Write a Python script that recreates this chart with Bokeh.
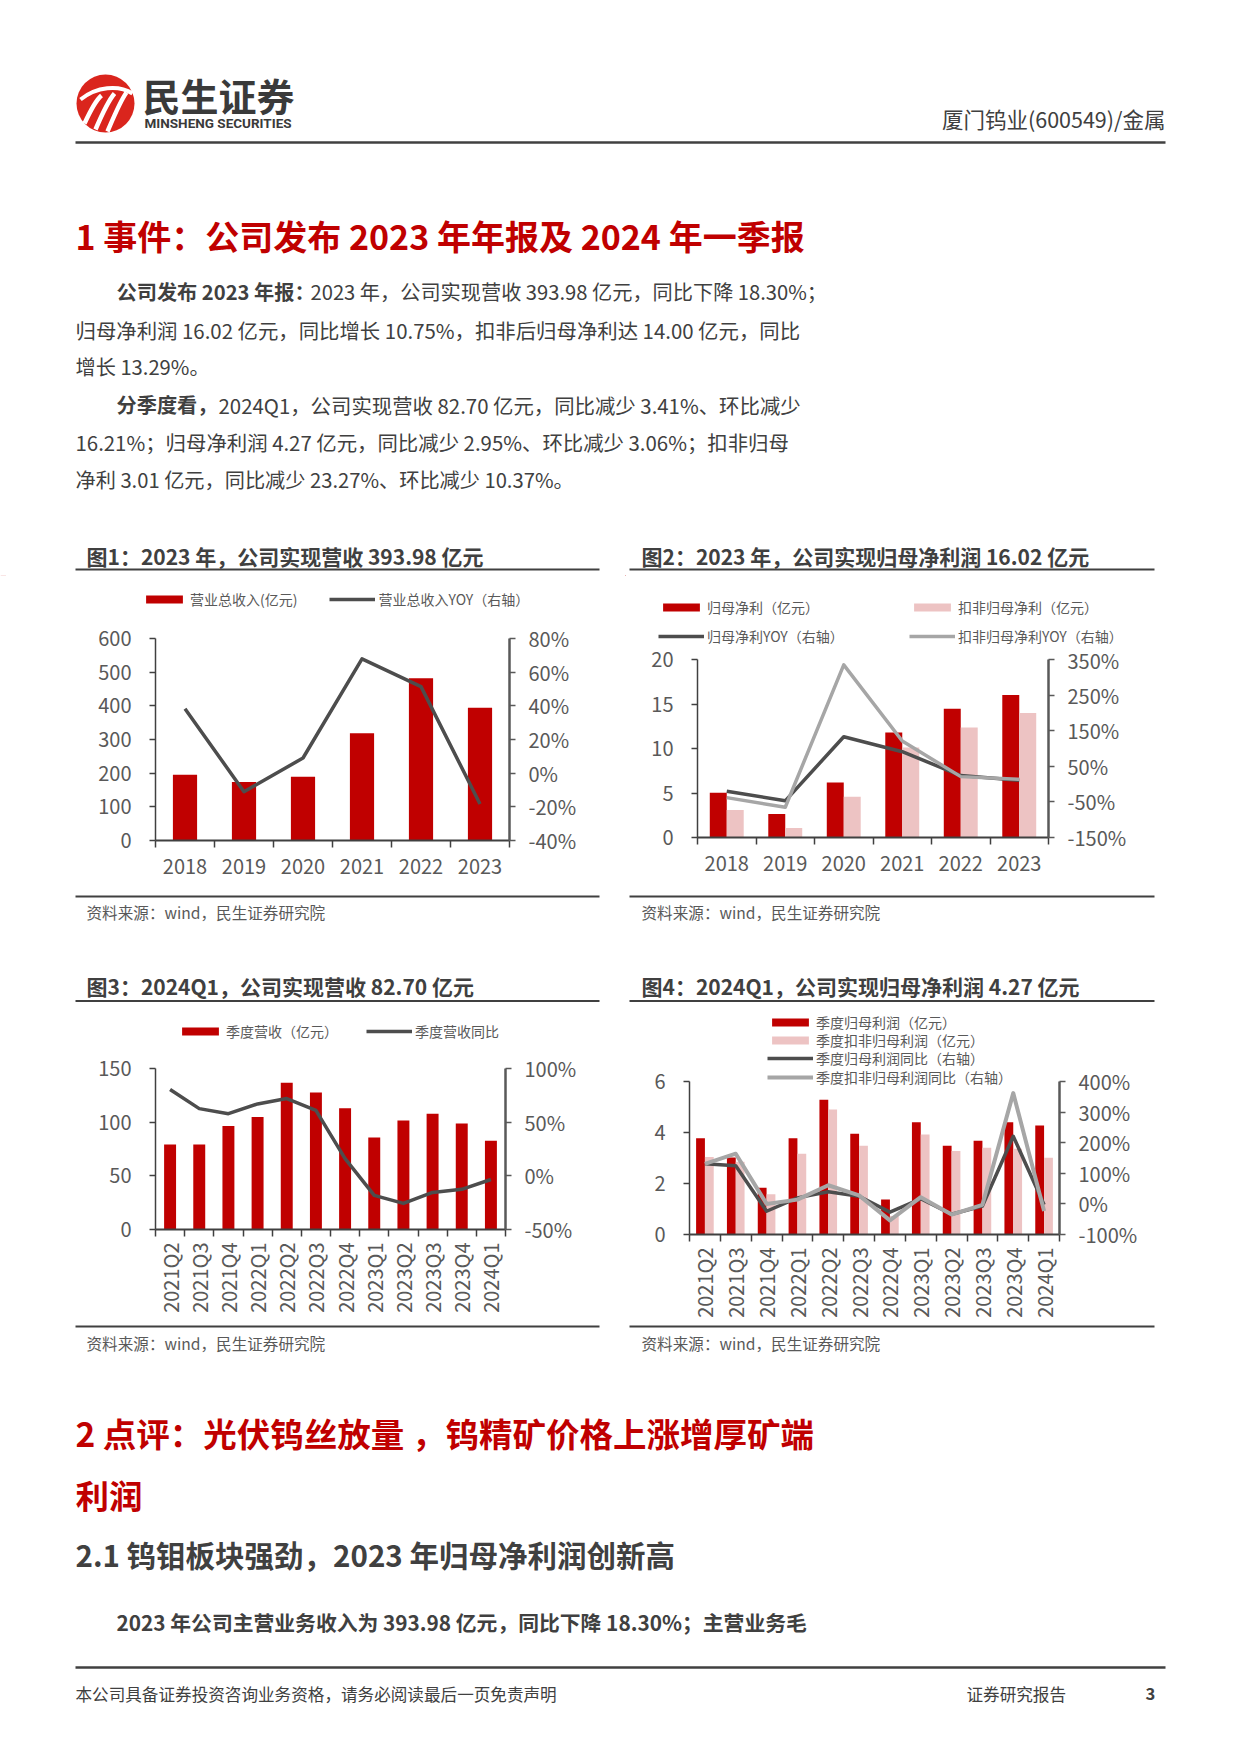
import math
from bokeh.plotting import figure
from bokeh.models import (Range1d, LinearAxis, FixedTicker, NumeralTickFormatter,
                          Legend, LegendItem, ColumnDataSource)
from bokeh.layouts import column, row
from bokeh.core.properties import value
from bokeh.transform import dodge
from bokeh.embed import file_html
from bokeh.resources import INLINE

# ---------------- data ----------------
years = ["2018", "2019", "2020", "2021", "2022", "2023"]
revenue = [195.5, 174.0, 189.7, 318.5, 482.2, 393.98]
revenue_yoy = [0.383, -0.110, 0.090, 0.679, 0.514, -0.183]

net_profit = [5.02, 2.65, 6.18, 11.80, 14.47, 16.02]
net_profit_deducted = [3.10, 1.06, 4.57, 10.10, 12.36, 14.00]
net_profit_yoy = [-0.20, -0.47, 1.33, 0.91, 0.24, 0.1075]
deducted_yoy = [-0.38, -0.65, 3.35, 1.21, 0.21, 0.1329]

quarters = ["2021Q2", "2021Q3", "2021Q4", "2022Q1", "2022Q2", "2022Q3",
            "2022Q4", "2023Q1", "2023Q2", "2023Q3", "2023Q4", "2024Q1"]
q_revenue = [79.2, 79.2, 96.5, 104.7, 136.8, 127.7, 112.9, 85.6, 101.6, 107.9, 98.7, 82.70]
q_revenue_yoy = [0.805, 0.626, 0.579, 0.67, 0.72, 0.61, 0.16, -0.182, -0.257, -0.155, -0.126, -0.0341]

q_profit = [3.77, 3.02, 1.83, 3.77, 5.28, 3.95, 1.37, 4.40, 3.48, 3.68, 4.40, 4.27]
q_profit_deducted = [3.04, 2.85, 1.58, 3.17, 4.90, 3.48, 0.73, 3.92, 3.27, 3.40, 3.36, 3.01]
q_profit_yoy = [1.31, 1.25, -0.24, 0.196, 0.40, 0.25, -0.27, 0.167, -0.34, -0.07, 2.21, -0.0295]
q_deducted_yoy = [1.31, 1.64, 0.0, 0.14, 0.61, 0.28, -0.54, 0.22, -0.35, -0.03, 3.62, -0.2327]

# ---------------- style ----------------
CJK = "Noto Sans CJK SC"
RED = "#C00000"
PINK = "#EDC3C3"
DARK = "#4D4D4D"
LIGHT = "#A6A6A6"
AXC = "#595959"
TXT = "#404040"
HEADRED = "#C00000"
LOGORED = "#DA251D"
PAGE_W = 1240


def blank_fig(x0, x1, y0, y1):
    p = figure(width=x1 - x0, height=y1 - y0, x_range=Range1d(x0, x1), y_range=Range1d(y1, y0),
               x_axis_type=None, y_axis_type=None, toolbar_location=None,
               output_backend="svg", min_border=0, outline_line_color=None,
               frame_align=False)
    return p


def T(p, x, y, s, size, color=TXT, bold=False, align="left", font=CJK):
    p.text(x=[x], y=[y], text=[s], text_font=value(font), text_font_size=value(f"{size}px"),
           text_color=color, text_font_style="bold" if bold else "normal",
           text_align=align, text_baseline="middle")


def L(p, x0, y0, x1, y1, color=TXT, w=2):
    p.segment(x0=[x0], y0=[y0], x1=[x1], y1=[y1], line_color=color, line_width=w)


def chart(box, ftb, arect, cats, ymax, yticks, rrange, rticks, rotate):
    X0, X1, Y0, Y1 = box          # figure box on the page
    FT, FB = ftb                  # frame top / bottom on the page
    XL, XR, YT, YB = arect        # axes rectangle on the page
    n = len(cats)
    ppy = (YB - YT) / ymax
    yrng = Range1d(-(FB - YB) / ppy, ymax + (YT - FT) / ppy)
    r0, r1 = rrange
    ppr = (YB - YT) / (r1 - r0)
    rrng = Range1d(r0 - (FB - YB) / ppr, r1 + (YT - FT) / ppr)
    p = figure(width=X1 - X0, height=Y1 - Y0, x_range=Range1d(-0.5, n - 0.5), y_range=yrng,
               x_axis_type=None, y_axis_type=None, toolbar_location=None, output_backend="svg",
               min_border_left=XL - X0, min_border_right=X1 - XR,
               min_border_top=FT - Y0, min_border_bottom=Y1 - FB,
               outline_line_color=None, frame_align=False)
    p.extra_y_ranges = {"r": rrng}
    yl = LinearAxis(ticker=FixedTicker(ticks=yticks, minor_ticks=[]), bounds=(0, ymax))
    yr = LinearAxis(y_range_name="r", ticker=FixedTicker(ticks=rticks, minor_ticks=[]),
                    formatter=NumeralTickFormatter(format="0%"), bounds=(r0, r1))
    xa = LinearAxis(ticker=FixedTicker(ticks=list(range(n)),
                                       minor_ticks=[i - 0.5 for i in range(n + 1)]),
                    major_label_overrides={i: c for i, c in enumerate(cats)})
    for ax in (yl, yr, xa):
        ax.major_label_text_font = CJK
        ax.major_label_text_font_size = "20px"
        ax.major_label_text_color = AXC
        ax.major_tick_in = 0
        ax.major_tick_out = 6
        ax.minor_tick_in = 0
        ax.minor_tick_out = 0
        ax.axis_line_color = TXT
        ax.major_tick_line_color = TXT
        ax.axis_line_width = 1.5
        ax.major_tick_line_width = 1.5
    yl.major_label_standoff = 18
    yr.major_label_standoff = 13
    yr.axis_line_color = AXC
    yr.axis_line_width = 2.5
    yr.major_tick_line_color = AXC
    xa.major_tick_line_color = None
    xa.minor_tick_out = 7
    xa.minor_tick_line_color = TXT
    xa.minor_tick_line_width = 1.5
    xa.axis_line_width = 2
    xa.major_label_standoff = 11
    if rotate:
        xa.major_label_orientation = math.pi / 2
        xa.major_label_standoff = 6
    p.add_layout(yl, "left")
    p.add_layout(yr, "right")
    p.add_layout(xa, "below")
    return p


def legend(p, items, vx, vy, orientation="vertical", spacing=2):
    lg = Legend(items=[LegendItem(label=l, renderers=[r]) for l, r in items],
                location=(vx, vy), orientation=orientation, spacing=spacing,
                padding=0, margin=0, label_standoff=3, glyph_width=46, glyph_height=10,
                label_height=16, label_text_font=CJK, label_text_font_size="14px",
                label_text_color=AXC, background_fill_alpha=0, border_line_color=None)
    p.add_layout(lg, "center")
    return lg


# ---------------- top text block ----------------
F1 = blank_fig(0, PAGE_W, 0, 575)
F1.circle(x=[105], y=[103], radius=29, fill_color=LOGORED, line_color=None)
F1.bezier(x0=[80], y0=[99], x1=[132], y1=[93], cx0=[96], cy0=[86], cx1=[118], cy1=[84],
          line_color="white", line_width=4)
F1.bezier(x0=[84, 95, 107], y0=[123, 129, 131], x1=[101, 114, 126], y1=[95, 93, 92],
          cx0=[90, 101, 113], cy0=[110, 115, 117], cx1=[95, 108, 120], cy1=[100, 100, 100],
          line_color="white", line_width=4.5)
T(F1, 142, 94, "民生证券", 38, color="#3A3A3A", bold=True)
T(F1, 144, 122, "MINSHENG SECURITIES", 13.5, color="#3A3A3A", bold=True, font="Roboto")
T(F1, 1165, 118, "厦门钨业(600549)/金属", 21.5, color=TXT, align="right")
L(F1, 75, 142, 1165, 142, w=2.5)

T(F1, 75, 235, "1 事件：公司发布 2023 年年报及 2024 年一季报", 34, color=HEADRED, bold=True)

T(F1, 116, 291, "公司发布 2023 年报：", 20.2, bold=True)
T(F1, 310, 291, "2023 年，公司实现营收 393.98 亿元，同比下降 18.30%；", 20.2)
T(F1, 75, 329, "归母净利润 16.02 亿元，同比增长 10.75%，扣非后归母净利达 14.00 亿元，同比", 20.4)
T(F1, 75, 366, "增长 13.29%。", 20.2)
T(F1, 116, 404, "分季度看，", 20.2, bold=True)
T(F1, 218, 404, "2024Q1，公司实现营收 82.70 亿元，同比减少 3.41%、环比减少", 20.4)
T(F1, 75, 441, "16.21%；归母净利润 4.27 亿元，同比减少 2.95%、环比减少 3.06%；扣非归母", 20.4)
T(F1, 75, 479, "净利 3.01 亿元，同比减少 23.27%、环比减少 10.37%。", 20.2)

T(F1, 86, 555, "图1：2023 年，公司实现营收 393.98 亿元", 21, bold=True)
T(F1, 641, 555, "图2：2023 年，公司实现归母净利润 16.02 亿元", 21, bold=True)
L(F1, 75, 569, 599, 569)
L(F1, 629, 569, 1154, 569)

# ---------------- chart 1 ----------------
s1 = ColumnDataSource(dict(x=list(range(len(years))), rev=revenue, yoy=revenue_yoy))
S1 = blank_fig(0, 625, 575, 620)   # legend strip (data lies outside its view)
k1a = S1.vbar(x="x", top="rev", width=0.41, bottom=0, source=s1, fill_color=RED, line_color=None)
k1b = S1.line(x="x", y="yoy", source=s1, line_color=DARK, line_width=3.5)
legend(S1, [("营业总收入(亿元)", k1a), ("营业总收入YOY（右轴）", k1b)],
       141, 11, orientation="horizontal", spacing=32)
C1 = chart((0, 625, 620, 892), (638, 840), (155, 509, 638, 840),
           years, 600, [0, 100, 200, 300, 400, 500, 600],
           (-0.4, 0.8), [-0.4, -0.2, 0, 0.2, 0.4, 0.6, 0.8], False)
C1.vbar(x="x", top="rev", width=0.41, bottom=0, source=s1, fill_color=RED, line_color=None)
C1.line(x="x", y="yoy", source=s1, y_range_name="r", line_color=DARK, line_width=3.5,
        line_join="round")

# ---------------- chart 2 ----------------
s2 = ColumnDataSource(dict(x=list(range(len(years))), np=net_profit, nd=net_profit_deducted,
                           ny=net_profit_yoy, dy=deducted_yoy))
S2 = blank_fig(625, 1240, 575, 645)   # legend strip (data lies outside its view)
k2a = S2.vbar(x="x", top="np", width=0.29, bottom=0, source=s2, fill_color=RED, line_color=None)
k2b = S2.vbar(x="x", top="nd", width=0.29, bottom=0, source=s2, fill_color=PINK, line_color=None)
k2c = S2.line(x="x", y="ny", source=s2, line_color=DARK, line_width=3.5)
k2d = S2.line(x="x", y="dy", source=s2, line_color=LIGHT, line_width=3.5)
legend(S2, [("归母净利（亿元）", k2a)], 33, 28)
legend(S2, [("归母净利YOY（右轴）", k2c)], 33, -1)
legend(S2, [("扣非归母净利（亿元）", k2b)], 284, 28)
legend(S2, [("扣非归母净利YOY（右轴）", k2d)], 284, -1)
C2 = chart((625, 1240, 645, 892), (659, 837), (697, 1048, 659, 837),
           years, 20, [0, 5, 10, 15, 20],
           (-1.5, 3.5), [-1.5, -0.5, 0.5, 1.5, 2.5, 3.5], False)
C2.vbar(x=dodge("x", -0.145), top="np", width=0.29, bottom=0, source=s2,
        fill_color=RED, line_color=None)
C2.vbar(x=dodge("x", 0.145), top="nd", width=0.29, bottom=0, source=s2,
        fill_color=PINK, line_color=None)
C2.line(x="x", y="ny", source=s2, y_range_name="r", line_color=DARK, line_width=3.5,
        line_join="round")
C2.line(x="x", y="dy", source=s2, y_range_name="r", line_color=LIGHT, line_width=3.5,
        line_join="round")

# ---------------- middle text block ----------------
F2 = blank_fig(0, PAGE_W, 892, 1007)
L(F2, 75, 896, 599, 896)
L(F2, 629, 896, 1154, 896)
T(F2, 86, 911, "资料来源：wind，民生证券研究院", 15.6, color=AXC)
T(F2, 641, 911, "资料来源：wind，民生证券研究院", 15.6, color=AXC)
T(F2, 86, 985, "图3：2024Q1，公司实现营收 82.70 亿元", 21, bold=True)
T(F2, 641, 985, "图4：2024Q1，公司实现归母净利润 4.27 亿元", 21, bold=True)
L(F2, 75, 1000.5, 599, 1000.5)
L(F2, 629, 1000.5, 1154, 1000.5)

# ---------------- chart 3 ----------------
s3 = ColumnDataSource(dict(x=list(range(len(quarters))), rev=q_revenue, yoy=q_revenue_yoy))
C3 = chart((0, 625, 1007, 1324), (1010, 1229), (155, 505, 1068, 1229),
           quarters, 150, [0, 50, 100, 150],
           (-0.5, 1.0), [-0.5, 0, 0.5, 1.0], True)
b3 = C3.vbar(x="x", top="rev", width=0.41, bottom=0, source=s3, fill_color=RED, line_color=None)
l3 = C3.line(x="x", y="yoy", source=s3, y_range_name="r", line_color=DARK, line_width=3.5,
             line_join="round")
legend(C3, [("季度营收（亿元）", b3), ("季度营收同比", l3)], 22, 188,
       orientation="horizontal", spacing=28)

# ---------------- chart 4 ----------------
s4 = ColumnDataSource(dict(x=list(range(len(quarters))), p=q_profit, d=q_profit_deducted,
                           py=q_profit_yoy, dy=q_deducted_yoy))
C4 = chart((625, 1240, 1007, 1324), (1010, 1234), (689, 1059, 1081, 1234),
           quarters, 6, [0, 2, 4, 6],
           (-1.0, 4.0), [-1, 0, 1, 2, 3, 4], True)
b4a = C4.vbar(x=dodge("x", -0.143), top="p", width=0.286, bottom=0, source=s4,
              fill_color=RED, line_color=None)
b4b = C4.vbar(x=dodge("x", 0.143), top="d", width=0.286, bottom=0, source=s4,
              fill_color=PINK, line_color=None)
l4a = C4.line(x="x", y="py", source=s4, y_range_name="r", line_color=DARK, line_width=3.5,
              line_join="round")
l4b = C4.line(x="x", y="dy", source=s4, y_range_name="r", line_color=LIGHT, line_width=4,
              line_join="round")
legend(C4, [("季度归母利润（亿元）", b4a)], 78, 202)
legend(C4, [("季度扣非归母利润（亿元）", b4b)], 78, 184)
legend(C4, [("季度归母利润同比（右轴）", l4a)], 78, 166)
legend(C4, [("季度扣非归母利润同比（右轴）", l4b)], 78, 147)

# ---------------- bottom text block ----------------
F3 = blank_fig(0, PAGE_W, 1324, 1752)
L(F3, 75, 1326, 599, 1326)
L(F3, 629, 1326, 1154, 1326)
T(F3, 86, 1342, "资料来源：wind，民生证券研究院", 15.6, color=AXC)
T(F3, 641, 1342, "资料来源：wind，民生证券研究院", 15.6, color=AXC)
T(F3, 75, 1432, "2 点评：光伏钨丝放量 ，钨精矿价格上涨增厚矿端", 33.5, color=HEADRED, bold=True)
T(F3, 75, 1494, "利润", 33.5, color=HEADRED, bold=True)
T(F3, 75, 1553, "2.1 钨钼板块强劲，2023 年归母净利润创新高", 29.5, color=TXT, bold=True)
T(F3, 116, 1621, "2023 年公司主营业务收入为 393.98 亿元，同比下降 18.30%；主营业务毛", 20.8, bold=True)
L(F3, 75, 1667, 1165, 1667, w=2.5)
T(F3, 75, 1693, "本公司具备证券投资咨询业务资格，请务必阅读最后一页免责声明", 16.6, color=TXT)
T(F3, 966, 1693, "证券研究报告", 16.6, color=TXT)
T(F3, 1150, 1693, "3", 16.6, color=TXT, bold=True, align="center")

page = column(F1, row(column(S1, C1, spacing=0), column(S2, C2, spacing=0), spacing=0),
              F2, row(C3, C4, spacing=0), F3, spacing=0)
open("out.html", "w").write(file_html(page, INLINE))
